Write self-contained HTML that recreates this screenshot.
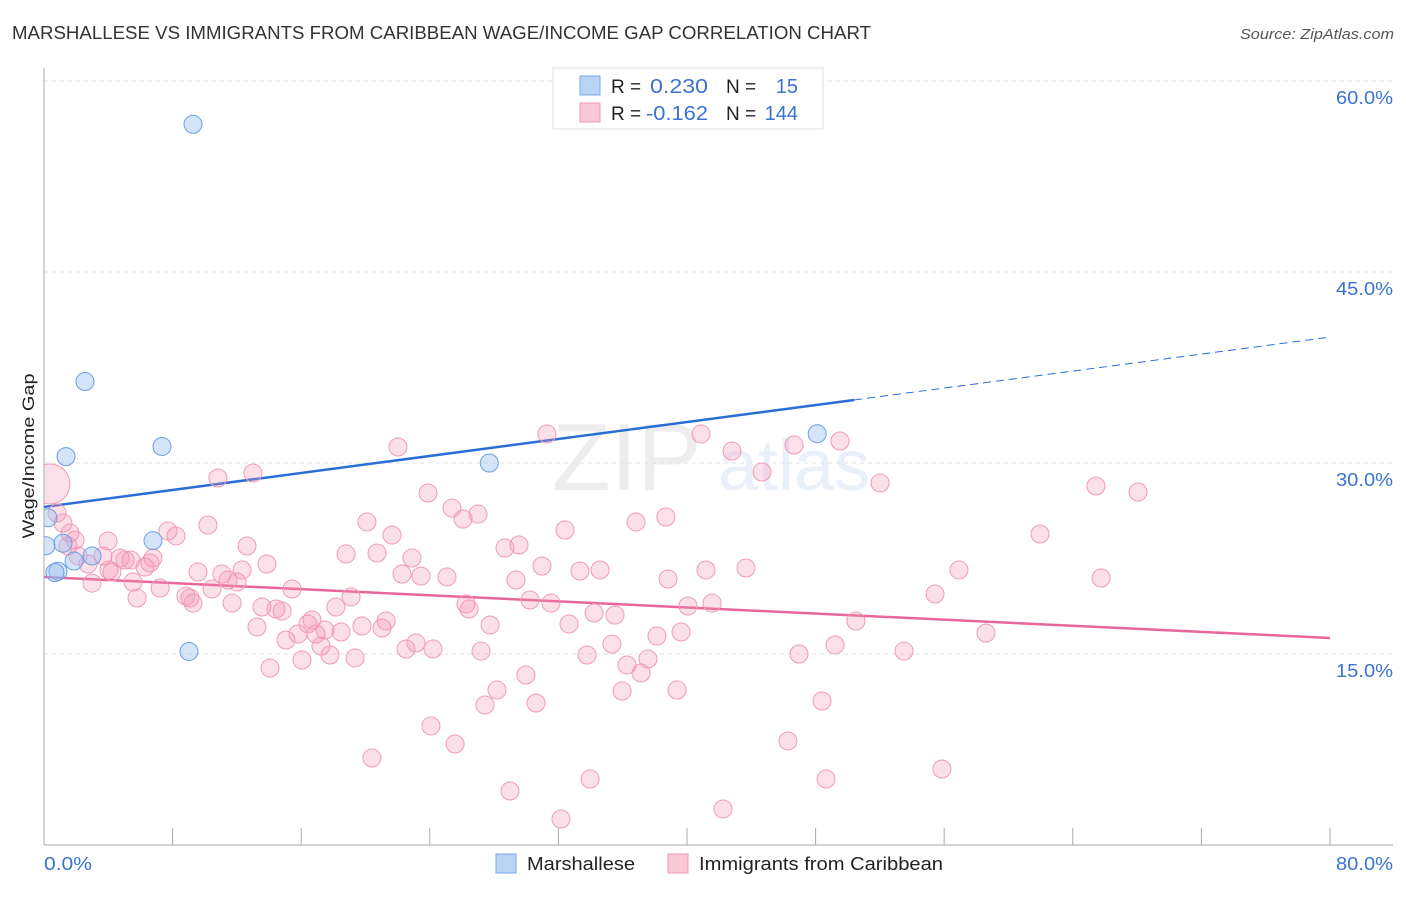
<!DOCTYPE html>
<html><head><meta charset="utf-8"><style>
body{margin:0;background:#fff;font-family:"Liberation Sans",sans-serif;}
svg text{font-family:"Liberation Sans",sans-serif;}
</style></head><body>
<svg id="chart" width="1406" height="892" viewBox="0 0 1406 892" xmlns="http://www.w3.org/2000/svg">
<defs><clipPath id="plotclip"><rect x="44" y="60" width="1360" height="785"/></clipPath></defs>
<text x="12" y="39" font-size="18" fill="#333" textLength="859" lengthAdjust="spacingAndGlyphs">MARSHALLESE VS IMMIGRANTS FROM CARIBBEAN WAGE/INCOME GAP CORRELATION CHART</text>
<text x="1394" y="39" font-size="15" fill="#555" font-style="italic" text-anchor="end" textLength="154" lengthAdjust="spacingAndGlyphs">Source: ZipAtlas.com</text>
<g opacity="0.25">
<text x="552" y="490" font-size="96" font-family="Liberation Serif, serif" fill="#bbb">ZIP</text>
<text x="718" y="490" font-size="72" fill="#a9c4ea">atlas</text>
</g>
<g id="grid"></g>
<g id="axes"></g>
<g id="trends"></g>
<g id="points" clip-path="url(#plotclip)"></g>
<text x="34" y="456" font-size="17" fill="#222" transform="rotate(-90 34 456)" text-anchor="middle" textLength="165" lengthAdjust="spacingAndGlyphs">Wage/Income Gap</text>
<g>
<rect x="553" y="68" width="270" height="61" fill="#fff" stroke="#ddd"/>
<rect x="580" y="76" width="20" height="19" fill="#b9d3f5" stroke="#7aa8e6"/>
<rect x="580" y="103" width="20" height="19" fill="#fbc8d8" stroke="#f09ab8"/>
<text x="611" y="93" font-size="19" fill="#222">R =</text>
<text x="650" y="93" font-size="20" fill="#3a73d0" textLength="58" lengthAdjust="spacingAndGlyphs">0.230</text>
<text x="726" y="93" font-size="19" fill="#222">N =</text>
<text x="798" y="93" font-size="20" fill="#3a73d0" text-anchor="end">15</text>
<text x="611" y="120" font-size="19" fill="#222">R =</text>
<text x="646" y="120" font-size="20" fill="#3a73d0" textLength="62" lengthAdjust="spacingAndGlyphs">-0.162</text>
<text x="726" y="120" font-size="19" fill="#222">N =</text>
<text x="798" y="120" font-size="20" fill="#3a73d0" text-anchor="end">144</text>
</g>
<g>
<rect x="496" y="854" width="20" height="19" fill="#b9d3f5" stroke="#7aa8e6"/>
<text x="527" y="870" font-size="18" fill="#222" textLength="108" lengthAdjust="spacingAndGlyphs">Marshallese</text>
<rect x="668" y="854" width="20" height="19" fill="#fbc8d8" stroke="#f09ab8"/>
<text x="699" y="870" font-size="18" fill="#222" textLength="244" lengthAdjust="spacingAndGlyphs">Immigrants from Caribbean</text>
</g>
</svg>
<script>
const yTicks=[15,30,45,60];
const yTickLabels=["15.0%","30.0%","45.0%","60.0%"];
const xTickCount=10;
const xEndLabels=["0.0%","80.0%"];
const blueX=[9.27,2.55,1.37,7.34,27.7,48.1,0.25,0.12,1.18,6.78,2.99,1.87,0.87,0.68,9.02];
const blueY=[56.6,36.4,30.5,31.3,30.0,32.3,25.7,23.5,23.7,23.9,22.7,22.3,21.5,21.4,15.2];
const pinkX=[0.37,0.81,1.18,1.62,1.93,1.49,2.12,2.74,2.99,3.67,3.98,4.23,4.73,5.04,5.54,5.79,6.28,6.59,6.78,7.22,7.71,8.21,8.83,9.08,9.27,9.58,10.20,10.45,10.82,11.07,11.45,11.70,12.01,12.32,12.63,13.00,13.25,13.87,14.06,13.56,14.43,14.81,15.05,15.43,15.80,16.05,16.42,16.67,16.92,17.23,17.48,17.79,18.16,18.48,18.79,19.10,19.35,19.78,20.09,20.72,21.03,21.28,21.65,22.02,22.27,22.52,22.89,23.14,23.45,23.89,24.20,24.07,25.07,25.38,25.57,26.07,26.25,26.44,27.00,27.19,27.75,28.18,28.68,29.36,29.55,29.98,30.23,30.61,30.98,31.29,31.54,32.41,32.66,33.34,33.78,34.22,34.59,35.33,35.52,35.96,36.27,36.83,37.14,37.57,38.13,38.69,38.82,39.38,39.63,40.06,40.87,41.18,41.56,42.24,42.80,43.67,44.67,46.28,46.66,46.97,48.40,48.65,49.21,49.52,50.51,52.01,53.50,55.43,55.86,56.92,58.60,61.96,65.44,65.76,68.06,28.99,33.97,32.16,20.40,27.43,4.04,5.41];
const pinkY=[28.35,26.07,25.29,24.50,23.95,23.48,22.70,22.07,20.57,22.70,23.87,21.44,22.54,22.38,20.65,19.40,21.83,22.15,22.54,20.18,24.66,24.27,19.55,19.40,19.00,21.44,25.13,20.10,28.82,21.28,20.81,19.00,20.65,21.60,23.48,29.21,17.12,22.07,13.90,18.69,18.53,18.38,16.10,20.10,16.57,14.53,17.36,17.67,16.57,15.63,16.88,14.92,18.69,16.73,22.85,19.48,14.69,17.20,25.37,22.93,17.04,17.59,24.34,31.26,21.28,15.39,22.54,15.86,21.12,27.64,15.39,9.35,21.05,26.46,7.93,25.60,18.93,18.53,25.99,15.23,17.28,12.17,23.32,20.81,23.56,13.35,19.24,11.15,21.91,32.28,19.00,24.74,17.36,21.52,14.92,18.22,21.60,15.78,18.06,12.09,14.14,25.37,13.51,14.61,16.41,25.76,20.89,12.17,16.73,18.77,32.28,21.60,19.00,2.83,30.94,21.75,29.29,8.17,31.41,15.00,11.31,5.18,15.71,31.73,17.59,28.43,15.23,19.71,5.97,21.60,16.65,24.42,28.19,20.97,27.72,4.24,5.18,2.04,6.83,10.99,21.60,22.38];
const pinkWeight=[5];
const blueTrend=[26.55,0.1667];   // intercept, slope
const blueSolidEnd=[50.4];
const pinkTrend=[21.05,-0.0599];
const X0=44,X1=1330,Y0=845,PX_PER_PCT=191/15;
const sx=v=>X0+(X1-X0)*v/80;
const sy=v=>Y0-v*PX_PER_PCT;
const NS="http://www.w3.org/2000/svg";
function mk(tag,attrs,parent){const e=document.createElementNS(NS,tag);for(const k in attrs)e.setAttribute(k,attrs[k]);parent.appendChild(e);return e;}
const grid=document.getElementById('grid'),axes=document.getElementById('axes'),trends=document.getElementById('trends'),pts=document.getElementById('points');
yTicks.forEach((t,i)=>{
  const l=mk('line',{x1:X0,x2:1393,y1:sy(t),y2:sy(t),stroke:'#e2e2e2','stroke-dasharray':'4,4'},grid);
  
  
  const tx=mk('text',{x:1393,y:sy(t)+23,'font-size':18,fill:'#3a73d0','text-anchor':'end',textLength:57,lengthAdjust:'spacingAndGlyphs'},grid);
  tx.textContent=yTickLabels[i];
  
  
});
const ya=mk('line',{x1:X0,x2:X0,y1:68,y2:Y0,stroke:'#aaa'},axes);


const xa=mk('line',{x1:X0,x2:1393,y1:Y0,y2:Y0,stroke:'#aaa'},axes);


for(let i=0;i<=xTickCount;i++){
  const v=80*i/xTickCount;
  const tk=mk('line',{x1:sx(v),x2:sx(v),y1:828,y2:Y0,stroke:'#aaa'},axes);
  
  
}
[[0,'start',X0],[1,'end',1393]].forEach(([i,a,x])=>{
  const t=mk('text',{x:x,y:870,'font-size':18,fill:'#3a73d0','text-anchor':a,textLength:i?57:48,lengthAdjust:'spacingAndGlyphs'},axes);
  t.textContent=xEndLabels[i];
  
  
});
const bl=mk('line',{x1:sx(0),y1:sy(blueTrend[0]),x2:sx(blueSolidEnd[0]),y2:sy(blueTrend[0]+blueTrend[1]*blueSolidEnd[0]),stroke:'#2a6dd6','stroke-width':2.5},trends);


const bd=mk('line',{x1:sx(blueSolidEnd[0]),y1:sy(blueTrend[0]+blueTrend[1]*blueSolidEnd[0]),x2:sx(80),y2:sy(blueTrend[0]+blueTrend[1]*80),stroke:'#2a6dd6','stroke-width':1,'stroke-dasharray':'8,5'},trends);


pinkX.forEach((x,i)=>{
  const w=pinkWeight[i]||1;
  const c=mk('circle',{cx:sx(x),cy:sy(pinkY[i]),r:w>1?20:9,fill:'rgba(244,143,177,0.28)',stroke:'#f09ab8','stroke-width':1},pts);
  
  
});
const pl=mk('line',{x1:sx(0),y1:sy(pinkTrend[0]),x2:sx(80),y2:sy(pinkTrend[0]+pinkTrend[1]*80),stroke:'#e8679a','stroke-width':2.5},trends);


blueX.forEach((x,i)=>{
  const c=mk('circle',{cx:sx(x),cy:sy(blueY[i]),r:9,fill:'rgba(150,190,240,0.4)',stroke:'#6c9fe0','stroke-width':1},pts);
  
  
});
</script>
</body></html>
